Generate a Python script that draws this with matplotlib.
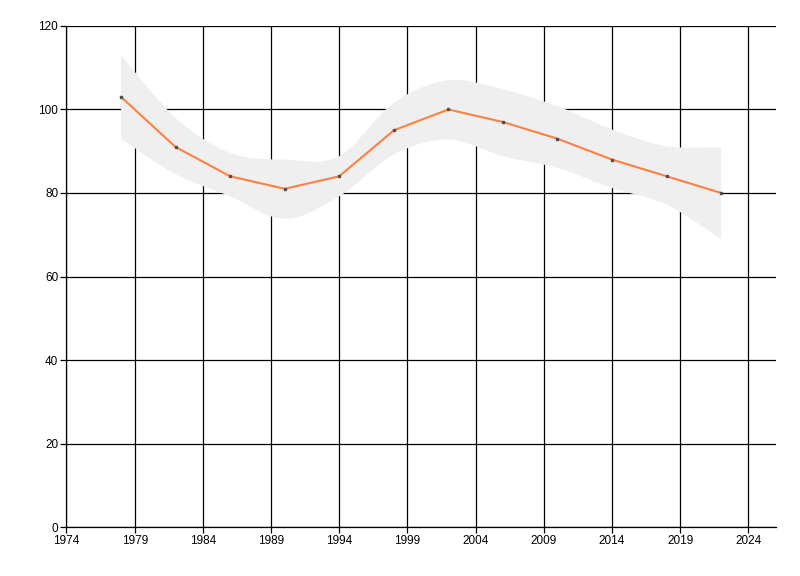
import numpy as np
import matplotlib
matplotlib.use('Agg')
import matplotlib.pyplot as plt
from matplotlib.path import Path
from matplotlib.patches import PathPatch

years = [1978, 1982, 1986, 1990, 1994, 1998, 2002, 2006, 2010, 2014, 2018, 2022]
values = [103, 91, 84, 81, 84, 95, 100, 97, 93, 88, 84, 80]
band_upper = [113, 98, 89.6, 88, 88.8, 101.6, 107, 104.8, 100.8, 95.2, 91.2, 91]
band_lower = [93, 84.5, 79.2, 73.8, 79.2, 89.2, 92.8, 88.8, 86, 81.2, 77.2, 69]
x_ticks = [1974, 1979, 1984, 1989, 1994, 1999, 2004, 2009, 2014, 2019, 2024]
y_ticks = [0, 20, 40, 60, 80, 100, 120]

plt.rcParams['font.family'] = ['Liberation Sans', 'DejaVu Sans']


def smooth_segments(xs, ys):
    # catmull-rom turned into cubic bezier pieces for Path
    pts = np.column_stack([xs, ys]).astype(float)
    verts = []
    codes = []
    n = len(pts)
    for i in range(n - 1):
        p0 = pts[max(i - 1, 0)]
        p1 = pts[i]
        p2 = pts[i + 1]
        p3 = pts[min(i + 2, n - 1)]
        c1 = p1 + (p2 - p0) / 6.0
        c2 = p2 - (p3 - p1) / 6.0
        verts += [tuple(c1), tuple(c2), tuple(p2)]
        codes += [Path.CURVE4] * 3
    return pts[0], verts, codes


fig = plt.figure(figsize=(8, 5.76), dpi=100)
ax = fig.add_axes([0.0831, 0.085, 0.8865, 0.8699])

start, up_verts, up_codes = smooth_segments(years, band_upper)
end, lo_verts, lo_codes = smooth_segments(years[::-1], band_lower[::-1])
verts = [tuple(start)] + up_verts + [tuple(end)] + lo_verts + [tuple(start)]
codes = [Path.MOVETO] + up_codes + [Path.LINETO] + lo_codes + [Path.CLOSEPOLY]
ax.add_patch(PathPatch(Path(verts, codes), facecolor='#efefef', edgecolor='none', zorder=2))

ax.plot(years, values, color='#ff8040', linewidth=1.5, zorder=3)
ax.plot(years, values, linestyle='none', marker='s', markersize=1.6,
        color='#505050', zorder=4)

ax.set_xlim(1974, 2026)
ax.set_ylim(0, 120)
ax.set_xticks(x_ticks)
ax.set_yticks(y_ticks)
ax.grid(True, color='black', linewidth=0.9, zorder=1)
ax.set_axisbelow(True)
for side in ['top', 'right']:
    ax.spines[side].set_visible(False)
for side in ['left', 'bottom']:
    ax.spines[side].set_color('black')
    ax.spines[side].set_linewidth(0.9)
ax.tick_params(axis='both', direction='out', length=4, width=0.9, labelsize=8.5,
               colors='black', pad=2)

fig.savefig('out.png', dpi=100)
